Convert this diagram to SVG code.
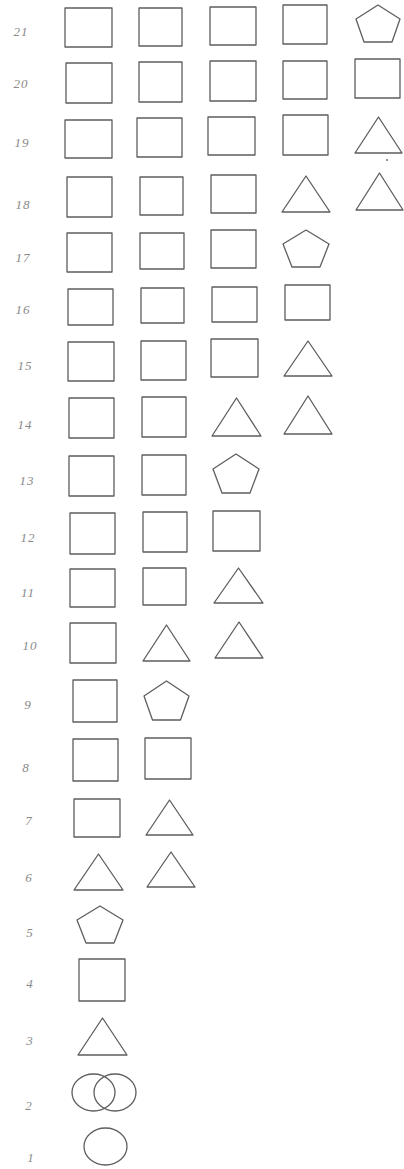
<svg xmlns="http://www.w3.org/2000/svg" width="404" height="1169" viewBox="0 0 404 1169">
<style>
.s{fill:none;stroke:#5e5e5e;stroke-width:1.3;stroke-linejoin:round}
.l{font-family:"Liberation Serif",serif;font-style:italic;font-size:13px;fill:#8a8a8a;text-anchor:middle;letter-spacing:1px}
</style>
<rect width="404" height="1169" fill="#ffffff"/>
<g id="labels">
<text class="l" x="21" y="36">21</text>
<text class="l" x="21" y="88">20</text>
<text class="l" x="22" y="147">19</text>
<text class="l" x="23" y="209">18</text>
<text class="l" x="23" y="262">17</text>
<text class="l" x="23" y="314">16</text>
<text class="l" x="25" y="370">15</text>
<text class="l" x="25" y="429">14</text>
<text class="l" x="27" y="485">13</text>
<text class="l" x="28" y="542">12</text>
<text class="l" x="28" y="597">11</text>
<text class="l" x="30" y="650">10</text>
<text class="l" x="28" y="709">9</text>
<text class="l" x="26" y="772">8</text>
<text class="l" x="29" y="825">7</text>
<text class="l" x="29" y="882">6</text>
<text class="l" x="30" y="937">5</text>
<text class="l" x="30" y="988">4</text>
<text class="l" x="30" y="1045">3</text>
<text class="l" x="29" y="1110">2</text>
<text class="l" x="31" y="1162">1</text>
</g>
<g id="connectors"></g>
<g id="row21">
<g id="n21-1"><rect class="s" x="65" y="8" width="47" height="39"/></g>
<g id="n21-2"><rect class="s" x="139" y="8" width="43" height="38"/></g>
<g id="n21-3"><rect class="s" x="210" y="7" width="46" height="38"/></g>
<g id="n21-4"><rect class="s" x="283" y="5" width="44" height="39"/></g>
<g id="n21-5"><polygon class="s" points="378,5 400,19 392,42 364,42 356,19"/></g>
</g>
<g id="row20">
<g id="n20-1"><rect class="s" x="66" y="63" width="46" height="40"/></g>
<g id="n20-2"><rect class="s" x="139" y="62" width="43" height="40"/></g>
<g id="n20-3"><rect class="s" x="210" y="61" width="46" height="40"/></g>
<g id="n20-4"><rect class="s" x="283" y="61" width="44" height="38"/></g>
<g id="n20-5"><rect class="s" x="355" y="59" width="45" height="39"/></g>
</g>
<g id="row19">
<g id="n19-1"><rect class="s" x="65" y="120" width="47" height="38"/></g>
<g id="n19-2"><rect class="s" x="137" y="118" width="45" height="39"/></g>
<g id="n19-3"><rect class="s" x="208" y="117" width="47" height="38"/></g>
<g id="n19-4"><rect class="s" x="283" y="115" width="45" height="40"/></g>
<g id="n19-5"><polygon class="s" points="378.5,117 355,153 402,153"/><circle cx="387" cy="160" r="0.9" fill="#5e5e5e"/></g>
</g>
<g id="row18">
<g id="n18-1"><rect class="s" x="67" y="177" width="45" height="40"/></g>
<g id="n18-2"><rect class="s" x="140" y="177" width="43" height="38"/></g>
<g id="n18-3"><rect class="s" x="211" y="175" width="45" height="38"/></g>
<g id="n18-4"><polygon class="s" points="306,176 282,212 330,212"/></g>
<g id="n18-5"><polygon class="s" points="379.5,173 356,210 403,210"/></g>
</g>
<g id="row17">
<g id="n17-1"><rect class="s" x="67" y="233" width="45" height="39"/></g>
<g id="n17-2"><rect class="s" x="140" y="233" width="44" height="36"/></g>
<g id="n17-3"><rect class="s" x="211" y="230" width="45" height="38"/></g>
<g id="n17-4"><polygon class="s" points="306,230 329,244 320,267 292,267 283,244"/></g>
</g>
<g id="row16">
<g id="n16-1"><rect class="s" x="68" y="289" width="45" height="36"/></g>
<g id="n16-2"><rect class="s" x="141" y="288" width="43" height="35"/></g>
<g id="n16-3"><rect class="s" x="212" y="287" width="45" height="35"/></g>
<g id="n16-4"><rect class="s" x="285" y="285" width="45" height="35"/></g>
</g>
<g id="row15">
<g id="n15-1"><rect class="s" x="68" y="342" width="46" height="39"/></g>
<g id="n15-2"><rect class="s" x="141" y="341" width="45" height="39"/></g>
<g id="n15-3"><rect class="s" x="211" y="339" width="47" height="38"/></g>
<g id="n15-4"><polygon class="s" points="308,341 284,376 332,376"/></g>
</g>
<g id="row14">
<g id="n14-1"><rect class="s" x="69" y="398" width="45" height="40"/></g>
<g id="n14-2"><rect class="s" x="142" y="397" width="44" height="40"/></g>
<g id="n14-3"><polygon class="s" points="236.5,398 212,436 261,436"/></g>
<g id="n14-4"><polygon class="s" points="308,396 284,434 332,434"/></g>
</g>
<g id="row13">
<g id="n13-1"><rect class="s" x="69" y="456" width="45" height="40"/></g>
<g id="n13-2"><rect class="s" x="142" y="455" width="44" height="40"/></g>
<g id="n13-3"><polygon class="s" points="236,454 259,469 250,493 222,493 213,469"/></g>
</g>
<g id="row12">
<g id="n12-1"><rect class="s" x="70" y="513" width="45" height="41"/></g>
<g id="n12-2"><rect class="s" x="143" y="512" width="44" height="40"/></g>
<g id="n12-3"><rect class="s" x="213" y="511" width="47" height="40"/></g>
</g>
<g id="row11">
<g id="n11-1"><rect class="s" x="70" y="569" width="45" height="38"/></g>
<g id="n11-2"><rect class="s" x="143" y="568" width="43" height="37"/></g>
<g id="n11-3"><polygon class="s" points="238.5,568 214,603 263,603"/></g>
</g>
<g id="row10">
<g id="n10-1"><rect class="s" x="70" y="623" width="46" height="40"/></g>
<g id="n10-2"><polygon class="s" points="166.5,625 143,661 190,661"/></g>
<g id="n10-3"><polygon class="s" points="239,622 215,658 263,658"/></g>
</g>
<g id="row9">
<g id="n9-1"><rect class="s" x="73" y="680" width="44" height="42"/></g>
<g id="n9-2"><polygon class="s" points="166.5,681 189,696 180.5,720 152.5,720 144,696"/></g>
</g>
<g id="row8">
<g id="n8-1"><rect class="s" x="73" y="739" width="45" height="42"/></g>
<g id="n8-2"><rect class="s" x="145" y="738" width="46" height="41"/></g>
</g>
<g id="row7">
<g id="n7-1"><rect class="s" x="74" y="799" width="46" height="38"/></g>
<g id="n7-2"><polygon class="s" points="169.5,800 146,835 193,835"/></g>
</g>
<g id="row6">
<g id="n6-1"><polygon class="s" points="98.5,854 74,890 123,890"/></g>
<g id="n6-2"><polygon class="s" points="171,852 147,887 195,887"/></g>
</g>
<g id="row5">
<g id="n5-1"><polygon class="s" points="100,906 123,920 114,943 86,943 77,920"/></g>
</g>
<g id="row4">
<g id="n4-1"><rect class="s" x="79" y="959" width="46" height="42"/></g>
</g>
<g id="row3">
<g id="n3-1"><polygon class="s" points="102.5,1018 78,1055 127,1055"/></g>
</g>
<g id="row2">
<g id="n2-1"><ellipse class="s" cx="93.5" cy="1092.5" rx="21.5" ry="18.5"/><ellipse class="s" cx="115" cy="1092.5" rx="21" ry="18.5"/></g>
</g>
<g id="row1">
<g id="n1-1"><ellipse class="s" cx="105.5" cy="1146.5" rx="21.5" ry="18.5"/></g>
</g>
</svg>
